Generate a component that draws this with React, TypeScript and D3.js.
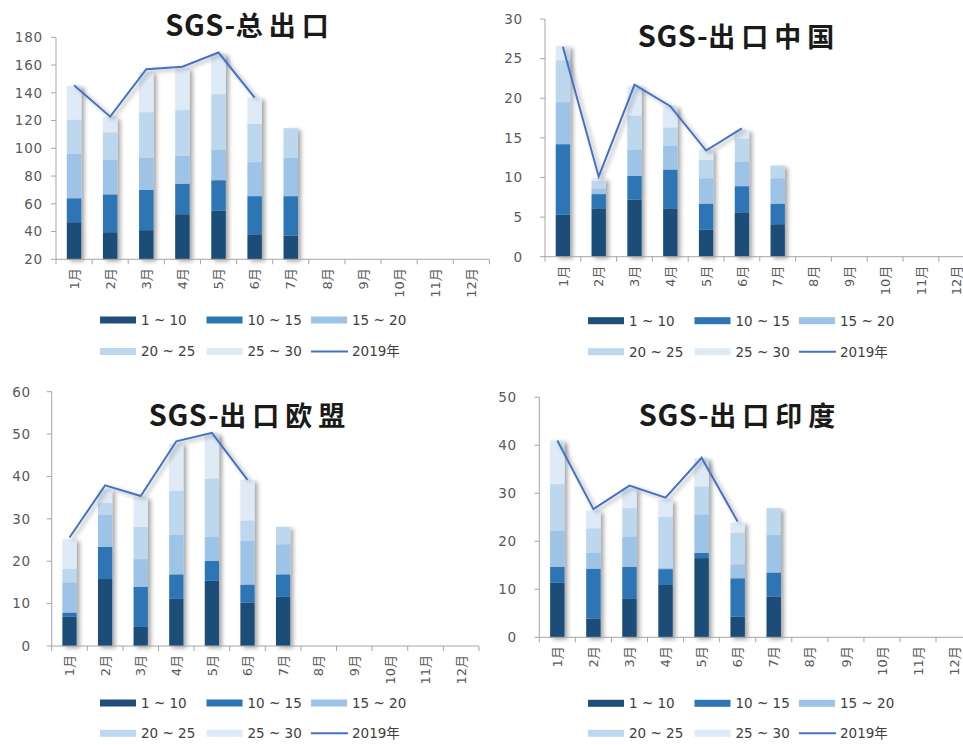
import React from 'react'
import * as d3 from 'd3'

const MONTHS = ['1月', '2月', '3月', '4月', '5月', '6月', '7月', '8月', '9月', '10月', '11月', '12月']
const KEYS = ['1 ~ 10', '10 ~ 15', '15 ~ 20', '20 ~ 25', '25 ~ 30']
const LINE_NAME = '2019年'

// SGS-总出口 (stacked segments, Jan-Jul)
const TOTAL_1_10 = [46.7, 39.5, 41, 52.5, 55, 38, 37]
const TOTAL_10_15 = [17.3, 27.3, 29, 22, 22, 27.5, 28.5]
const TOTAL_15_20 = [32, 24.8, 23, 20, 22, 24.5, 27.5]
const TOTAL_20_25 = [24.5, 19.9, 33, 33, 40, 27.5, 21.5]
const TOTAL_25_30 = [24.5, 11, 29, 30, 29, 19, 0]
const TOTAL_2019 = [145.5, 122.8, 157, 158.8, 169, 136.5]

// SGS-出口中国
const CHINA_1_10 = [5.3, 6.1, 7.2, 6.1, 3.4, 5.6, 4.1]
const CHINA_10_15 = [8.9, 1.8, 3.0, 4.9, 3.3, 3.3, 2.6]
const CHINA_15_20 = [5.3, 0.7, 3.3, 3.0, 3.2, 3.1, 3.2]
const CHINA_20_25 = [5.3, 1.0, 4.3, 2.3, 2.3, 2.9, 1.6]
const CHINA_25_30 = [1.8, 0.3, 3.7, 2.7, 1.3, 1.1, 0]
const CHINA_2019 = [26.5, 10.1, 21.7, 19.0, 13.4, 16.2]

// SGS-出口欧盟
const EU_1_10 = [6.9, 15.8, 4.5, 11.2, 15.4, 10.2, 11.6]
const EU_10_15 = [1.0, 7.6, 9.5, 5.7, 4.7, 4.3, 5.3]
const EU_15_20 = [7.1, 7.5, 6.5, 9.3, 5.7, 10.3, 7.1]
const EU_20_25 = [3.2, 2.8, 7.6, 10.4, 13.7, 4.8, 4.1]
const EU_25_30 = [7.0, 3.1, 7.1, 11.2, 10.7, 9.6, 0]
const EU_2019 = [25.6, 37.9, 35.4, 48.3, 50.3, 39.2]

// SGS-出口印度
const INDIA_1_10 = [11.4, 3.9, 8.0, 10.9, 16.5, 4.3, 8.5]
const INDIA_10_15 = [3.3, 10.4, 6.7, 3.3, 1.1, 8.0, 5.0]
const INDIA_15_20 = [7.5, 3.3, 6.3, 0.3, 8.0, 2.9, 7.8]
const INDIA_20_25 = [9.7, 5.1, 5.9, 10.6, 5.8, 6.6, 5.6]
const INDIA_25_30 = [9.1, 3.7, 4.1, 3.5, 5.9, 2.1, 0]
const INDIA_2019 = [41.0, 26.7, 31.6, 29.1, 37.4, 24.1]

const COLORS = ['#1f4e79', '#2e75b6', '#9dc3e6', '#bdd7ee', '#deebf7']
const LINE_COLOR = '#4472c4'
const AXIS_COLOR = '#a6a6a6'
const TICK_TEXT = '#595959'
const NUM_FONT = '"DejaVu Sans", "Noto Sans CJK SC", sans-serif'
const CJK_FONT = '"Noto Sans CJK SC", sans-serif'

const PANELS = [
  {
    prefix: 'SGS-', title: '总出口', series: [TOTAL_1_10, TOTAL_10_15, TOTAL_15_20, TOTAL_20_25, TOTAL_25_30], line: TOTAL_2019,
    yDomain: [20, 180], yTicks: d3.range(20, 181, 20),
    x0: 56, x1: 489.4, yTop: 37.3, yBottom: 259.3, labelRight: 43,
    titleX: 250, titleY: 36, legendX: 100, legendY: [320, 351.5]
  },
  {
    prefix: 'SGS-', title: '出口中国', series: [CHINA_1_10, CHINA_10_15, CHINA_15_20, CHINA_20_25, CHINA_25_30], line: CHINA_2019,
    yDomain: [0, 30], yTicks: d3.range(0, 31, 5),
    x0: 545, x1: 974.6, yTop: 19, yBottom: 256.7, labelRight: 523,
    titleX: 739, titleY: 47, legendX: 588, legendY: [320.7, 351.7]
  },
  {
    prefix: 'SGS-', title: '出口欧盟', series: [EU_1_10, EU_10_15, EU_15_20, EU_20_25, EU_25_30], line: EU_2019,
    yDomain: [0, 60], yTicks: d3.range(0, 61, 10),
    x0: 51.7, x1: 478.9, yTop: 391.7, yBottom: 646, labelRight: 31,
    titleX: 250, titleY: 426, legendX: 100, legendY: [703, 733.3]
  },
  {
    prefix: 'SGS-', title: '出口印度', series: [INDIA_1_10, INDIA_10_15, INDIA_15_20, INDIA_20_25, INDIA_25_30], line: INDIA_2019,
    yDomain: [0, 50], yTicks: d3.range(0, 51, 10),
    x0: 539.3, x1: 972.1, yTop: 397.3, yBottom: 637.3, labelRight: 517,
    titleX: 740, titleY: 426, legendX: 588, legendY: [703.3, 733.3]
  }
]

function Panel({ p }: { p: any }) {
  const x = d3.scaleBand<string>().domain(MONTHS).range([p.x0, p.x1]).paddingInner(0.6).paddingOuter(0.3)
  const y = d3.scaleLinear().domain(p.yDomain).range([p.yBottom, p.yTop]).clamp(true)
  const step = x.step()

  const rows = p.series[0].map((_: number, i: number) => {
    const r: any = { month: MONTHS[i] }
    KEYS.forEach((k, j) => { r[k] = p.series[j][i] })
    return r
  })
  const stacked = d3.stack<any>().keys(KEYS)(rows)

  const line = d3.line<number>()
    .x((_, i) => (x(MONTHS[i]) ?? 0) + x.bandwidth() / 2)
    .y(d => y(d))

  const boundaries = d3.range(0, MONTHS.length + 1).map(i => p.x0 + i * step)
  const cols = [0, 106.5, 211]

  return (
    <g>
      {/* bars */}
      <g filter="url(#shadow)">
        {rows.map((r: any, i: number) => (
          <g key={r.month}>
            {stacked.map((s, j) => {
              const d = s[i]
              if (d[1] - d[0] <= 0) return null
              const top = y(d[1])
              const bot = y(d[0])
              return (
                <rect key={j} x={x(r.month)} y={top} width={x.bandwidth()} height={Math.max(0, bot - top)} fill={COLORS[j]} />
              )
            })}
          </g>
        ))}
      </g>

      {/* axes */}
      <line x1={p.x0} x2={p.x0} y1={p.yTop} y2={p.yBottom} stroke={AXIS_COLOR} strokeWidth={1} />
      {p.yTicks.map((t: number) => (
        <g key={t}>
          <line x1={p.x0 - 5} x2={p.x0} y1={y(t)} y2={y(t)} stroke={AXIS_COLOR} />
          <text x={p.labelRight} y={y(t)} dy="0.36em" textAnchor="end" fontSize={13.5} letterSpacing={0.8}
            fontFamily={NUM_FONT} fill={TICK_TEXT}>{t}</text>
        </g>
      ))}
      <line x1={p.x0} x2={p.x1} y1={p.yBottom} y2={p.yBottom} stroke={AXIS_COLOR} strokeWidth={1} />
      {boundaries.map((bx: number, i: number) => (
        <line key={i} x1={bx} x2={bx} y1={p.yBottom} y2={p.yBottom + 5} stroke={AXIS_COLOR} />
      ))}
      {MONTHS.map(m => (
        <text key={m} transform={`translate(${(x(m) ?? 0) + x.bandwidth() / 2},${p.yBottom + 9}) rotate(-90)`}
          dy="0.36em" textAnchor="end" fontSize={13} fontFamily={NUM_FONT} fill={TICK_TEXT}>{m}</text>
      ))}

      {/* 2019 line */}
      <path d={line(p.line) ?? ''} fill="none" stroke={LINE_COLOR} strokeWidth={2} filter="url(#shadow)" />

      {/* title */}
      <text x={p.titleX} y={p.titleY} textAnchor="middle" fontWeight={600} fontFamily={CJK_FONT} fill="#1a1a1a">
        <tspan fontSize={29} letterSpacing={0.5}>{p.prefix}</tspan>
        <tspan fontSize={27} letterSpacing={6}>{p.title}</tspan>
      </text>

      {/* legend */}
      {KEYS.map((k, j) => {
        const row = j < 3 ? 0 : 1
        const col = j < 3 ? j : j - 3
        const lx = p.legendX + cols[col]
        const ly = p.legendY[row]
        return (
          <g key={k}>
            <rect x={lx} y={ly - 3.5} width={36} height={7} fill={COLORS[j]} />
            <text x={lx + 41} y={ly} dy="0.36em" fontSize={13.5} fontFamily={NUM_FONT} fill="#404040">{k}</text>
          </g>
        )
      })}
      <line x1={p.legendX + cols[2]} x2={p.legendX + cols[2] + 37} y1={p.legendY[1]} y2={p.legendY[1]}
        stroke={LINE_COLOR} strokeWidth={2} />
      <text x={p.legendX + cols[2] + 41} y={p.legendY[1]} dy="0.36em" fontSize={13.5} fontFamily={NUM_FONT}
        fill="#404040">{LINE_NAME}</text>
    </g>
  )
}

export default function App() {
  return (
    <svg width={963} height={745} style={{ position: 'absolute', left: 0, top: 0, background: '#fff' }}>
      <defs>
        <filter id="shadow" x="-50%" y="-20%" width="220%" height="140%">
          <feDropShadow dx={3} dy={2} stdDeviation={2} floodColor="#000" floodOpacity={0.35} />
        </filter>
      </defs>
      <rect width={963} height={745} fill="#fff" />
      {PANELS.map((p, i) => <Panel key={i} p={p} />)}
    </svg>
  )
}
